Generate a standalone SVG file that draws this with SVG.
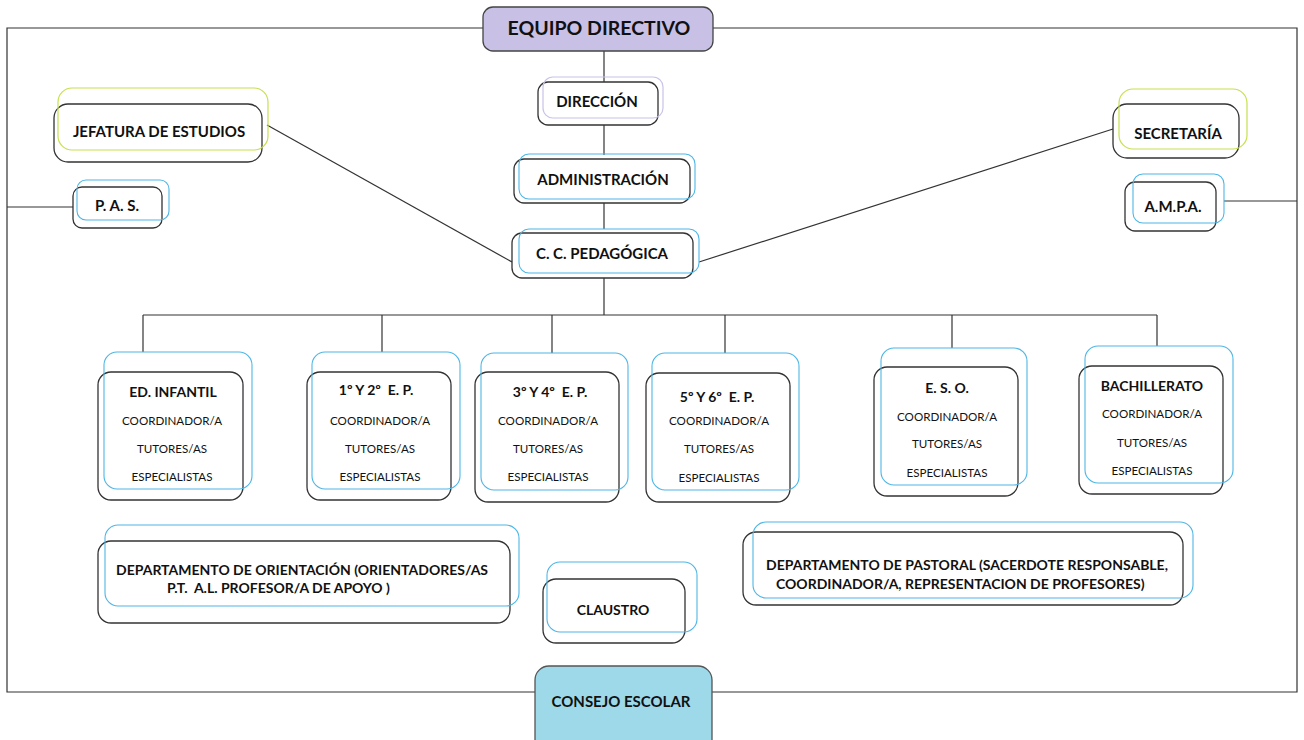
<svg xmlns="http://www.w3.org/2000/svg" width="1304" height="740" viewBox="0 0 1304 740">
<style>
.bg{fill:#ffffff}
.ln{stroke:#333;stroke-width:1.2;fill:none}
.bk{fill:none;stroke:#333;stroke-width:1.3}
.bl{fill:none;stroke:#4db6e6;stroke-width:1.1}
.gr{fill:none;stroke:#c6e050;stroke-width:1.2}
.lv{fill:none;stroke:#c9c2ea;stroke-width:1.2}
text{font-family:Lato,"Liberation Sans",Arial,sans-serif;fill:#111;text-anchor:middle}
.t{font-weight:bold;font-size:15px}
.h{font-weight:bold;font-size:14px}
.s{font-size:11.6px}
.d{font-weight:bold;font-size:14px;text-anchor:start}
</style>
<rect class="bg" x="0" y="0" width="1304" height="740"/>
<g id="connectors">
<polyline class="ln" points="483,28 7,28 7,692 535,692"/>
<polyline class="ln" points="713,28 1297,28 1297,692 712,692"/>
<line class="ln" x1="604" y1="51" x2="604" y2="82"/>
<line class="ln" x1="604" y1="125" x2="604" y2="155"/>
<line class="ln" x1="604" y1="203" x2="604" y2="229"/>
<line class="ln" x1="604" y1="278" x2="604" y2="315"/>
<line class="ln" x1="143" y1="315" x2="1157" y2="315"/>
<line class="ln" x1="143" y1="315" x2="143" y2="352"/>
<line class="ln" x1="382" y1="315" x2="382" y2="352"/>
<line class="ln" x1="552" y1="315" x2="552" y2="353"/>
<line class="ln" x1="725" y1="315" x2="725" y2="353"/>
<line class="ln" x1="952" y1="315" x2="952" y2="348"/>
<line class="ln" x1="1157" y1="315" x2="1157" y2="346"/>
<line class="ln" x1="267" y1="125" x2="512" y2="262"/>
<line class="ln" x1="1113" y1="129" x2="699" y2="262"/>
<line class="ln" x1="7" y1="207" x2="73" y2="207"/>
<line class="ln" x1="1224" y1="201" x2="1297" y2="201"/>
</g>
<g id="equipo-directivo">
<rect x="483" y="7" width="230" height="44" rx="10" fill="#c9c0e6" stroke="#444" stroke-width="1.3"/>
<text x="599" y="35" style="font-weight:bold;font-size:19.5px">EQUIPO DIRECTIVO</text>
</g>
<g id="direccion">
<rect class="bk" x="538" y="82" width="120" height="43" rx="10"/>
<rect class="lv" x="543" y="77" width="120" height="41" rx="10"/>
<text class="t" x="597" y="107">DIRECCIÓN</text>
</g>
<g id="administracion">
<rect class="bk" x="514" y="159" width="176" height="44" rx="10"/>
<rect class="bl" x="519" y="154" width="176" height="45" rx="10"/>
<text class="t" x="603" y="185">ADMINISTRACIÓN</text>
</g>
<g id="cc-pedagogica">
<rect class="bk" x="512" y="233" width="181" height="45" rx="10"/>
<rect class="bl" x="519" y="229" width="180" height="44" rx="10"/>
<text class="t" x="602" y="259">C. C. PEDAGÓGICA</text>
</g>
<g id="jefatura">
<rect class="bk" x="54" y="104" width="208" height="58" rx="14"/>
<rect class="gr" x="58" y="88" width="210" height="62" rx="14"/>
<text class="t" x="159" y="137">JEFATURA DE ESTUDIOS</text>
</g>
<g id="pas">
<rect class="bk" x="73" y="187" width="89" height="41" rx="9"/>
<rect class="bl" x="77" y="180" width="92" height="40" rx="9"/>
<text class="t" x="117" y="211">P. A. S.</text>
</g>
<g id="secretaria">
<rect class="bk" x="1113" y="104" width="126" height="54" rx="14"/>
<rect class="gr" x="1119" y="89" width="128" height="60" rx="14"/>
<text class="t" x="1178" y="139">SECRETARÍA</text>
</g>
<g id="ampa">
<rect class="bk" x="1125" y="182" width="91" height="49" rx="10"/>
<rect class="bl" x="1133" y="174" width="91" height="49" rx="10"/>
<text class="t" x="1173" y="212">A.M.P.A.</text>
</g>
<g id="ed-infantil">
<rect class="bk" x="98" y="372" width="145" height="128" rx="13"/>
<rect class="bl" x="104" y="352" width="148" height="137" rx="13"/>
<text class="h" x="173" y="397">ED. INFANTIL</text>
<text class="s" x="172" y="425">COORDINADOR/A</text>
<text class="s" x="172" y="453">TUTORES/AS</text>
<text class="s" x="172" y="481">ESPECIALISTAS</text>
</g>
<g id="ep-1-2">
<rect class="bk" x="307" y="372" width="144" height="128" rx="13"/>
<rect class="bl" x="312" y="352" width="148" height="137" rx="13"/>
<text class="h" x="376" y="395" xml:space="preserve">1º Y 2º  E. P.</text>
<text class="s" x="380" y="425">COORDINADOR/A</text>
<text class="s" x="380" y="453">TUTORES/AS</text>
<text class="s" x="380" y="481">ESPECIALISTAS</text>
</g>
<g id="ep-3-4">
<rect class="bk" x="475" y="372" width="144" height="130" rx="13"/>
<rect class="bl" x="481" y="353" width="147" height="137" rx="13"/>
<text class="h" x="550" y="397" xml:space="preserve">3º Y 4º  E. P.</text>
<text class="s" x="548" y="425">COORDINADOR/A</text>
<text class="s" x="548" y="453">TUTORES/AS</text>
<text class="s" x="548" y="481">ESPECIALISTAS</text>
</g>
<g id="ep-5-6">
<rect class="bk" x="646" y="373" width="144" height="129" rx="13"/>
<rect class="bl" x="652" y="353" width="147" height="137" rx="13"/>
<text class="h" x="717" y="402" xml:space="preserve">5º Y 6º  E. P.</text>
<text class="s" x="719" y="425">COORDINADOR/A</text>
<text class="s" x="719" y="453">TUTORES/AS</text>
<text class="s" x="719" y="482">ESPECIALISTAS</text>
</g>
<g id="eso">
<rect class="bk" x="874" y="367" width="144" height="129" rx="13"/>
<rect class="bl" x="881" y="348" width="146" height="137" rx="13"/>
<text class="h" x="947" y="393">E. S. O.</text>
<text class="s" x="947" y="421">COORDINADOR/A</text>
<text class="s" x="947" y="448">TUTORES/AS</text>
<text class="s" x="947" y="477">ESPECIALISTAS</text>
</g>
<g id="bachillerato">
<rect class="bk" x="1079" y="366" width="144" height="128" rx="13"/>
<rect class="bl" x="1085" y="346" width="148" height="137" rx="13"/>
<text class="h" x="1152" y="391">BACHILLERATO</text>
<text class="s" x="1152" y="418">COORDINADOR/A</text>
<text class="s" x="1152" y="447">TUTORES/AS</text>
<text class="s" x="1152" y="475">ESPECIALISTAS</text>
</g>
<g id="orientacion">
<rect class="bk" x="98" y="541" width="412" height="82" rx="13"/>
<rect class="bl" x="105" y="525" width="414" height="81" rx="13"/>
<text class="d" x="116" y="575">DEPARTAMENTO DE ORIENTACIÓN (ORIENTADORES/AS</text>
<text class="d" x="167" y="593" xml:space="preserve">P.T.  A.L. PROFESOR/A DE APOYO )</text>
</g>
<g id="pastoral">
<rect class="bk" x="743" y="532" width="440" height="73" rx="13"/>
<rect class="bl" x="753" y="522" width="440" height="76" rx="13"/>
<text class="d" x="766" y="570">DEPARTAMENTO DE PASTORAL (SACERDOTE RESPONSABLE,</text>
<text class="d" x="776" y="589">COORDINADOR/A, REPRESENTACION DE PROFESORES)</text>
</g>
<g id="claustro">
<rect class="bk" x="543" y="579" width="142" height="64" rx="13"/>
<rect class="bl" x="547" y="562" width="150" height="70" rx="13"/>
<text class="h" x="613" y="615">CLAUSTRO</text>
</g>
<g id="consejo-escolar">
<rect x="535" y="666" width="177" height="90" rx="14" fill="#9ed9ea" stroke="#555" stroke-width="1.3"/>
<text class="t" x="621" y="707">CONSEJO ESCOLAR</text>
</g>
</svg>
